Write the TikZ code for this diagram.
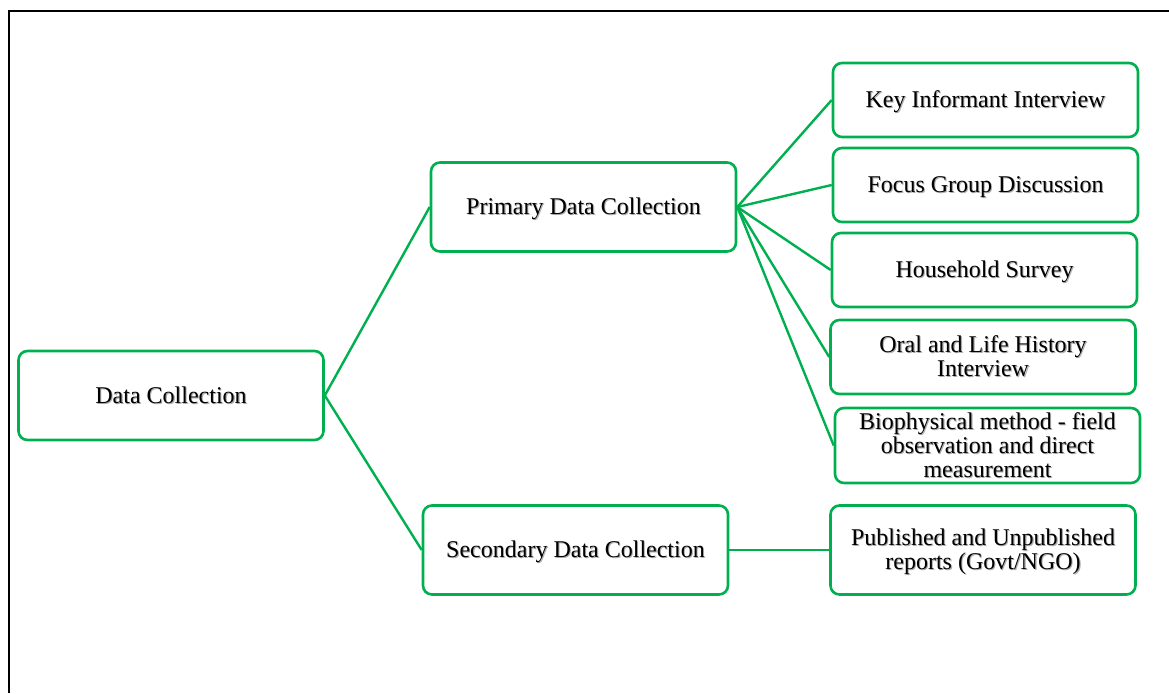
\documentclass[tikz,border=0pt]{standalone}
\usepackage{fontspec}
\setmainfont{Liberation Serif}
\definecolor{boxgreen}{RGB}{0,176,80}
\definecolor{txtshadow}{RGB}{170,170,170}
% one line of label text with a soft grey drop shadow behind it
\newcommand{\shline}[1]{\rlap{\kern1.1pt\raisebox{-1.1pt}{\textcolor{txtshadow}{#1}}}#1}
% invisible strut that nudges a label a little lower in its box
\newcommand{\lowstrut}{\rule{0pt}{21pt}}
\begin{document}
\begin{tikzpicture}[x=1pt,y=-1pt,
  box/.style={draw=boxgreen, line width=2.6pt, rounded corners=9pt, fill=white,
    align=center, inner sep=2pt, text=black,
    font=\fontsize{24}{24}\selectfont},
  wide/.style={box, minimum width=305pt, minimum height=89pt},
  leaf/.style={box, minimum width=305pt, minimum height=74pt},
  link/.style={draw=boxgreen, line width=2.4pt}]
\useasboundingbox (0,0) rectangle (1169,693);
\fill[white] (0,0) rectangle (1169,693);
% outer frame (only the top and left edges fall inside the page)
\draw[line width=2pt] (9,693) -- (9,11) -- (1169,11);

% root and the two main branches
\node[wide] (dc) at (171,395.5) {\shline{Data Collection}};
\node[wide] (prim) at (583.5,207) {\lowstrut\shline{Primary Data Collection}};
\node[wide] (sec) at (575.5,550) {\lowstrut\shline{Secondary Data Collection}};

% primary data collection methods
\node[leaf] (kii) at (985.5,100) {\lowstrut\shline{Key Informant Interview}};
\node[leaf] (fgd) at (985.5,185) {\lowstrut\shline{Focus Group Discussion}};
\node[leaf] (hs) at (984.5,270) {\lowstrut\shline{Household Survey}};
\node[leaf] (ol) at (983,357) {\shline{Oral and Life History}\\\shline{Interview}};
\node[leaf, minimum height=75pt] (bio) at (987.5,445.5)
  {\shline{Biophysical method - field}\\\shline{observation and direct}\\\shline{measurement}};

% secondary data source
\node[wide] (pub) at (983,550) {\lowstrut\shline{Published and Unpublished}\\\shline{reports (Govt/NGO)}};

% connectors
\draw[link] (dc.east) -- (prim.west);
\draw[link] (dc.east) -- (sec.west);
\foreach \t in {kii,fgd,hs,ol,bio}
  \draw[link] (prim.east) -- (\t.west);
\draw[link] (sec.east) -- (pub.west);
\end{tikzpicture}
\end{document}
